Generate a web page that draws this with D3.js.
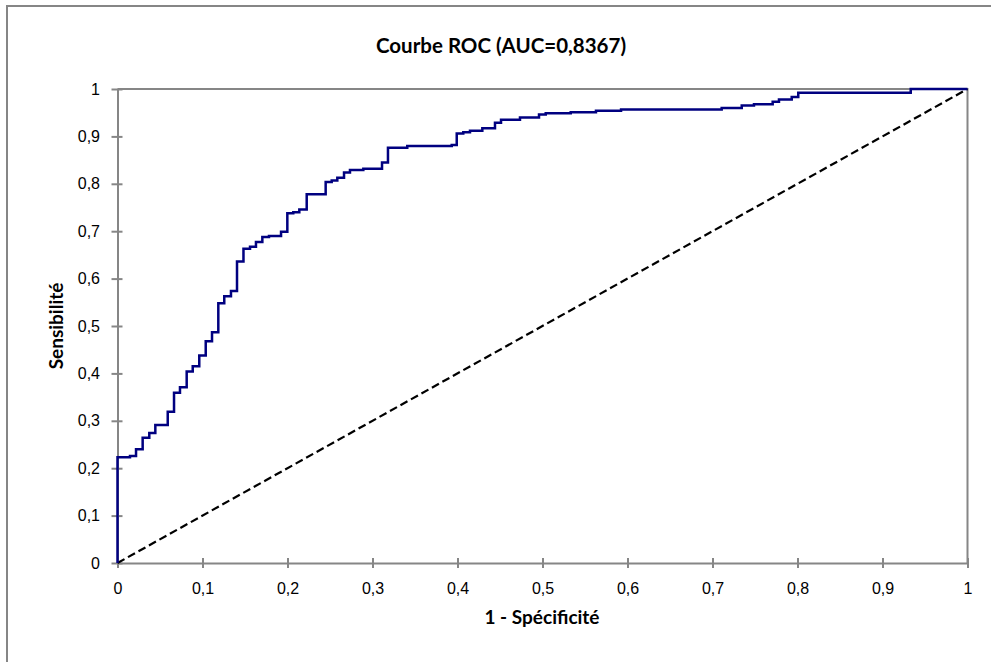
<!DOCTYPE html>
<html>
<head>
<meta charset="utf-8">
<script src="https://cdn.jsdelivr.net/npm/d3@7"></script>
<style>
  body { margin: 0; background: #fff; }
  svg { display: block; font-family: Lato, "Open Sans", sans-serif; }
  .axis path, .axis line { stroke: #868686; stroke-width: 2; }
</style>
</head>
<body>
<div id="chart"></div>
<script>
// ROC curve points (1 - specificity, sensitivity), step after
var fpr = [0, 0, 0.0147, 0.0218, 0.0296, 0.0374, 0.0445, 0.0591, 0.0665, 0.0735,
  0.0814, 0.0885, 0.0962, 0.1038, 0.1112, 0.1186, 0.1256, 0.1335, 0.1406, 0.1482,
  0.1559, 0.1629, 0.1704, 0.1782, 0.1924, 0.1998, 0.2068, 0.2139, 0.2226, 0.2449,
  0.2520, 0.2586, 0.2665, 0.2735, 0.2892, 0.3112, 0.3182, 0.3409, 0.3932, 0.3991,
  0.4068, 0.4147, 0.4292, 0.4441, 0.4512, 0.4735, 0.4959, 0.5038, 0.5332, 0.5629,
  0.5924, 0.7108, 0.7344, 0.7488, 0.7708, 0.7782, 0.7932, 0.8009, 0.9332, 1];
var tpr = [0, 0.223, 0.226, 0.240, 0.264, 0.274, 0.291, 0.319, 0.359, 0.371,
  0.404, 0.415, 0.438, 0.468, 0.487, 0.548, 0.563, 0.574, 0.636, 0.663,
  0.667, 0.677, 0.688, 0.690, 0.699, 0.738, 0.740, 0.746, 0.778, 0.804,
  0.807, 0.813, 0.824, 0.829, 0.832, 0.845, 0.876, 0.880, 0.882, 0.906,
  0.909, 0.912, 0.917, 0.929, 0.935, 0.940, 0.946, 0.949, 0.951, 0.954,
  0.957, 0.960, 0.965, 0.968, 0.973, 0.978, 0.983, 0.992, 1.0, 1.0];
var refX = [0, 1];
var refY = [0, 1];
var ticks = [0, 0.1, 0.2, 0.3, 0.4, 0.5, 0.6, 0.7, 0.8, 0.9, 1];

var title = "Courbe ROC (AUC=0,8367)";
var xTitle = "1 - Spécificité";
var yTitle = "Sensibilité";

var W = 991, H = 662;
var margin = {top: 89, left: 117.5};
var width = 850, height = 474;

var svg = d3.select("#chart").append("svg").attr("width", W).attr("height", H);

// chart area border
svg.append("rect")
  .attr("x", 7).attr("y", 6)
  .attr("width", W).attr("height", H)
  .attr("fill", "#fff").attr("stroke", "#868686").attr("stroke-width", 2);

svg.append("text")
  .attr("x", 501).attr("y", 53)
  .attr("text-anchor", "middle")
  .style("font-size", "20.5px").style("font-weight", "bold")
  .text(title);

var g = svg.append("g").attr("transform", "translate(" + margin.left + "," + margin.top + ")");

var x = d3.scaleLinear().domain([0, 1]).range([0, width]);
var y = d3.scaleLinear().domain([0, 1]).range([height, 0]);

var fmt = function(d) { return d3.format("~g")(d).replace(".", ","); };

// plot border (top and right)
g.append("path")
  .attr("d", "M0,0H" + width + "V" + height)
  .attr("fill", "none").attr("stroke", "#868686").attr("stroke-width", 2);

var xAxis = g.append("g")
  .attr("class", "axis")
  .attr("transform", "translate(0," + height + ")")
  .call(d3.axisBottom(x).tickValues(ticks).tickFormat(fmt).tickSize(5).tickSizeOuter(0));
xAxis.selectAll(".tick line").attr("y1", -5).attr("y2", 5);
xAxis.selectAll(".tick text").attr("y", 31).attr("dy", 0)
  .style("font-size", "16px").attr("fill", "#000");

var yAxis = g.append("g")
  .attr("class", "axis")
  .call(d3.axisLeft(y).tickValues(ticks).tickFormat(fmt).tickSize(5).tickSizeOuter(0));
yAxis.selectAll(".tick line").attr("x1", -6).attr("x2", 5);
yAxis.selectAll(".tick text").attr("x", -17.5)
  .style("font-size", "16px").attr("fill", "#000");

// reference diagonal
g.append("path")
  .datum(refX.map(function(v, i) { return [v, refY[i]]; }))
  .attr("fill", "none").attr("stroke", "#000").attr("stroke-width", 2.2)
  .attr("stroke-dasharray", "8,4")
  .attr("d", d3.line().x(function(d) { return x(d[0]); }).y(function(d) { return y(d[1]); }));

// ROC curve
g.append("path")
  .datum(fpr.map(function(v, i) { return [v, tpr[i]]; }))
  .attr("fill", "none").attr("stroke", "#000080").attr("stroke-width", 2.5)
  .attr("d", d3.line().curve(d3.curveStepAfter)
    .x(function(d) { return x(d[0]); }).y(function(d) { return y(d[1]); }));

svg.append("text")
  .attr("x", 542).attr("y", 624)
  .attr("text-anchor", "middle")
  .style("font-size", "19px").style("font-weight", "bold")
  .text(xTitle);

svg.append("text")
  .attr("transform", "translate(63,326) rotate(-90)")
  .attr("text-anchor", "middle")
  .style("font-size", "19px").style("font-weight", "bold")
  .text(yTitle);
</script>
</body>
</html>
